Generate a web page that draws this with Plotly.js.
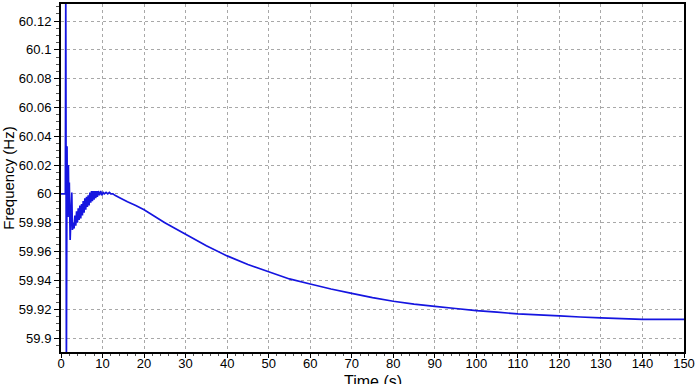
<!DOCTYPE html>
<html>
<head>
<meta charset="utf-8">
<script src="https://cdn.plot.ly/plotly-3.0.1.min.js"></script>
<style>html,body{margin:0;padding:0;background:#fff;}#chart{width:695px;height:384px;}</style>
</head>
<body>
<div id="chart"></div>
<script>
// Time (s)
const timeSec = [0,1.05,1.15,1.3,1.45,1.55,1.62,1.7,1.78,1.88,2.0,2.2,2.4,2.6,2.75,2.95,3.15,3.35,3.55,3.75,3.95,4.15,4.35,4.55,4.75,4.95,5.15,5.35,5.55,5.75,5.95,6.15,6.35,6.55,6.75,6.95,7.15,7.35,7.55,7.75,7.95,8.15,8.35,8.55,8.75,8.95,9.25,9.55,9.85,10.15,10.45,10.85,11.25,11.65,12.0,12.5,13,14,16,18,20,25,30,35,40,45,50,55,60,65,70,75,80,85,90,95,100,105,110,115,120,125,130,135,140,145,150];
// Frequency (Hz)
const freqHz = [60,60,60.14,59.88,60.033,59.985,60.01,59.984,60.02,59.99,60.008,59.968,59.985,60.001,59.975,59.98,59.976,59.985,59.978,59.988,59.98,59.99,59.982,59.992,59.983,59.993,59.985,59.995,59.987,59.997,59.989,59.998,59.991,59.999,59.992,60.001,59.994,60.002,59.995,60.002,59.996,60.002,59.997,60.002,59.998,60.002,59.999,60.002,59.999,60.001,60.0,60.001,60.0,60.001,60.0,60.0,59.999,59.9975,59.9945,59.992,59.989,59.980,59.972,59.964,59.957,59.951,59.946,59.941,59.9375,59.934,59.931,59.928,59.9255,59.9235,59.922,59.9205,59.919,59.918,59.9167,59.916,59.9154,59.9146,59.914,59.9135,59.913,59.913,59.913];
const yTickVals = [59.9,59.92,59.94,59.96,59.98,60,60.02,60.04,60.06,60.08,60.1,60.12];
const yTickText = ['59.9','59.92','59.94','59.96','59.98','60','60.02','60.04','60.06','60.08','60.1','60.12'];
const xTitle = 'Time (s)';
const yTitle = 'Frequency (Hz)';

const trace = {
  x: timeSec, y: freqHz, type: 'scatter', mode: 'lines',
  line: {color: '#1515e0', width: 1.7, simplify: false}, hoverinfo: 'skip'
};
const font = {family: 'Arial, Liberation Sans, sans-serif', color: '#000'};
const layout = {
  width: 695, height: 384,
  margin: {l: 61, r: 11, t: 4, b: 32},
  paper_bgcolor: '#fff', plot_bgcolor: '#fff',
  showlegend: false,
  font: Object.assign({size: 13}, font),
  xaxis: {
    range: [0, 150], dtick: 10, tick0: 0,
    showgrid: true, gridcolor: '#a8a8a8', griddash: 'dot', gridwidth: 1,
    zeroline: false, showline: true, linecolor: '#000', linewidth: 2, mirror: true,
    ticks: 'outside', ticklen: 4, tickcolor: '#000', tickwidth: 1,
    ticklabelstandoff: -6,
    minor: {dtick: 2, ticks: 'outside', ticklen: 2, tickcolor: '#555', showgrid: false},
    tickfont: Object.assign({size: 13}, font)
  },
  yaxis: {
    range: [59.8903, 60.1318],
    tickmode: 'array', tickvals: yTickVals, ticktext: yTickText,
    showgrid: true, gridcolor: '#a8a8a8', griddash: 'dot', gridwidth: 1,
    zeroline: false, showline: true, linecolor: '#000', linewidth: 2, mirror: true,
    ticks: 'outside', ticklen: 5, tickcolor: '#000', tickwidth: 1,
    minor: {dtick: 0.005, tick0: 59.9, ticks: 'outside', ticklen: 3, tickcolor: '#555', showgrid: false},
    tickfont: Object.assign({size: 13}, font),
    title: {text: yTitle, font: Object.assign({size: 15}, font), standoff: 4}
  },
  annotations: [{
    text: xTitle, xref: 'paper', yref: 'paper', x: 0.5, y: -0.085,
    xanchor: 'center', yanchor: 'middle', showarrow: false,
    font: Object.assign({size: 16}, font)
  }]
};
Plotly.newPlot('chart', [trace], layout, {staticPlot: true, displayModeBar: false});
</script>
</body>
</html>
